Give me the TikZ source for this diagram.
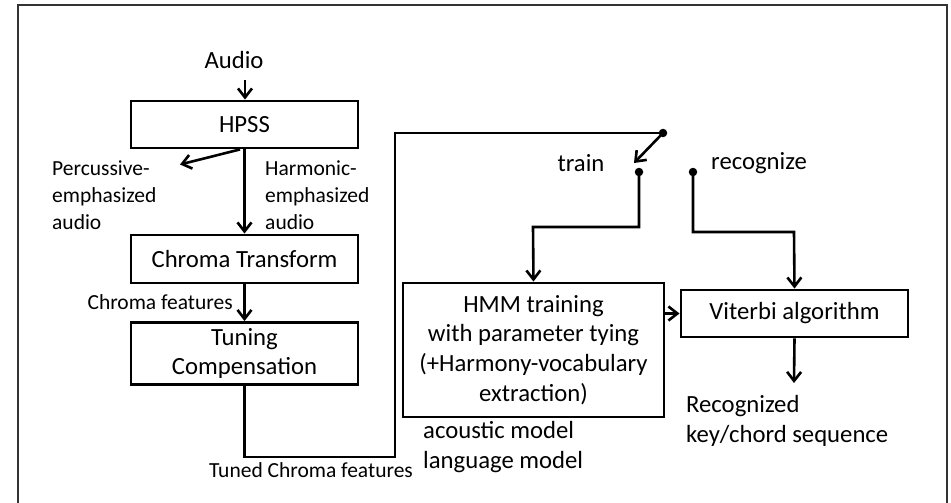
\documentclass[tikz,border=0pt]{standalone}
\usepackage{fontspec}
\setmainfont{Carlito}
\usetikzlibrary{arrows.meta}

\tikzset{
  big/.style={font=\fontsize{24.7}{29.6}\selectfont},
  small/.style={font=\fontsize{21.5}{27}\selectfont},
  stage/.style={draw, line width=2.9pt, rectangle, inner sep=0pt, align=center, big},
  lbl/.style={inner sep=0pt, align=left},
  wire/.style={line width=2.6pt, line join=miter},
  arr/.style={wire, -{Straight Barb[length=9pt,width=14pt,line width=2.6pt]}},
  dotnode/.style={circle, fill=black, inner sep=0pt, minimum size=8.5pt},
  frame/.style={draw=black!80, line width=1.3pt}
}

\begin{document}
\begin{tikzpicture}[x=1pt, y=-1pt]
  \useasboundingbox (0,0) rectangle (951,503);

  % outer frame, open at the bottom
  \draw[frame] (18,503) -- (18,5) -- (947,5) -- (947,503);

  % processing stages
  \node[stage, minimum width=227pt, minimum height=47pt] (hpss) at (244.5,124.5) {HPSS};
  \node[stage, minimum width=227pt, minimum height=48pt] (chroma) at (244.5,259) {Chroma Transform};
  \node[stage, minimum width=227pt, minimum height=62pt] (tuning) at (244.5,353.5) {Tuning\\Compensation};
  \node[stage, minimum width=261pt, minimum height=134pt] (hmm) at (533.5,350)
    {HMM training\\with parameter tying\\(+Harmony-vocabulary\\extraction)};
  \node[stage, minimum width=227pt, minimum height=47pt] (viterbi) at (794.5,313.5) {Viterbi algorithm};

  % text labels
  \node[lbl, big] (audio) at (234,60) {Audio};
  \node[lbl, small, anchor=west] (perc) at (52,195) {Percussive-\\emphasized\\audio};
  \node[lbl, small, anchor=west] (harm) at (265,195) {Harmonic-\\emphasized\\audio};
  \node[lbl, small, anchor=east] (chfeat) at (233,302) {Chroma features};
  \node[lbl, small] (tuned) at (311,470) {Tuned Chroma features};
  \node[lbl, big] (train) at (581,163) {train};
  \node[lbl, big, anchor=west] (recog) at (711,163) {recognize};
  \node[lbl, big, anchor=west] (models) at (423,447) {acoustic model\\language model};
  \node[lbl, big, anchor=west] (result) at (686,421) {Recognized\\key/chord sequence};

  % switch contacts
  \node[dotnode] (swtop) at (663,133) {};
  \node[dotnode] (swtrain) at (639,172) {};
  \node[dotnode] (swrecog) at (693,172) {};

  % helper points for the connectors
  \coordinate (audioin) at (245,80);
  \coordinate (percout) at (180,164.5);
  \coordinate (tunedbend) at (395,457);
  \coordinate (swarm) at (634,163);
  \coordinate (trainbend) at (533,227);
  \coordinate (recogbend) at (794,232);
  \coordinate (resultout) at (794,383);

  % connectors
  \draw[arr] (audioin) -- (hpss.north -| audioin);
  \draw[arr] ([xshift=-4.5pt]hpss.south) -- (percout);
  \draw[arr] (hpss.south) -- (chroma.north);
  \draw[arr] (chroma.south) -- (tuning.north);
  \draw[wire] (tuning.south) |- (tunedbend) |- (swtop.center);
  \draw[arr] (swtop.center) -- (swarm);
  \draw[arr] (swtrain.center) |- (trainbend) -- (hmm.north);
  \draw[arr] (swrecog.center) |- (recogbend) -- (viterbi.north);
  \draw[arr] (hmm.east |- viterbi.west) -- (viterbi.west);
  \draw[arr] (viterbi.south) -- (resultout);
\end{tikzpicture}
\end{document}
